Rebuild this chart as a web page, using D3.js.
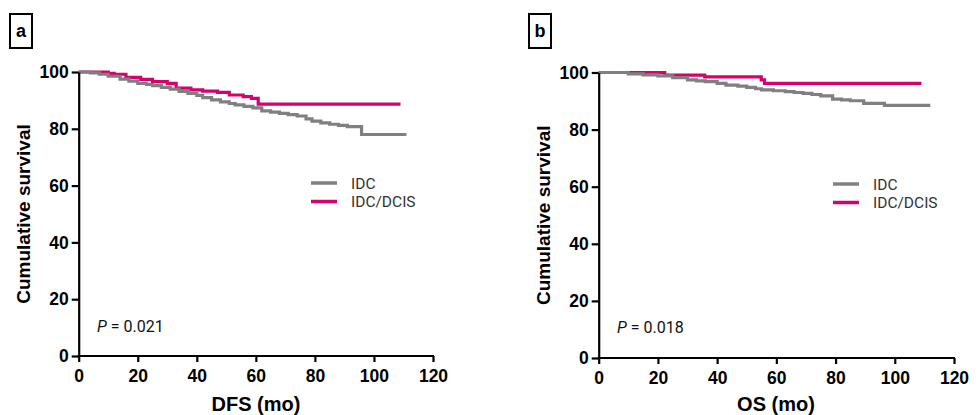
<!DOCTYPE html>
<html>
<head>
<meta charset="utf-8">
<script src="https://cdn.jsdelivr.net/npm/d3@7"></script>
<style>
  body { margin: 0; background: #fff; }
  svg { display: block; }
</style>
</head>
<body>
<svg id="chart" width="979" height="415"></svg>
<script>
// x ticks / y ticks
let xTicks = [0, 20, 40, 60, 80, 100, 120];
let yTicks = [0, 20, 40, 60, 80, 100];
let seriesNames = ["IDC", "IDC/DCIS"];
let seriesColors = ["#808080", "#d6006e"];

// panel a: DFS
let dfsIdcTime = [0, 4, 7, 10, 14, 17, 20, 23, 25, 28, 31, 34, 37, 40, 42, 45, 48, 51, 53, 56, 59, 62, 65, 68, 71, 74, 77, 79, 82, 85, 88, 91, 95.8, 111];
let dfsIdcSurv = [100, 99.7, 99.2, 98.5, 97.5, 96.8, 96.0, 95.6, 95.2, 94.6, 94.0, 93.2, 92.5, 91.8, 91.0, 90.2, 89.5, 88.9, 88.4, 87.9, 87.4, 86.3, 85.9, 85.4, 85.0, 84.5, 83.5, 82.7, 82.1, 81.6, 81.2, 80.8, 78.0, 78.0];
let dfsDcisTime = [0, 10, 12, 16, 21, 25, 30, 33, 38, 42, 47, 51, 55.7, 58.5, 60.8, 109];
let dfsDcisSurv = [100, 99.5, 99.2, 98.1, 97.4, 96.6, 96.0, 94.3, 93.7, 93.3, 92.8, 91.9, 91.3, 90.7, 88.7, 88.7];

// panel b: OS
let osIdcTime = [0, 10, 15, 20, 25, 30, 33, 36, 40, 43, 47, 50, 53, 55, 59, 63, 66, 69, 72, 75, 79, 82, 85, 89.5, 96.5, 112];
let osIdcSurv = [100, 99.5, 99.2, 98.8, 98.2, 97.4, 97.1, 96.8, 96.2, 95.6, 95.2, 94.8, 94.3, 93.9, 93.6, 93.3, 93.0, 92.7, 92.3, 91.8, 90.7, 90.4, 90.1, 89.2, 88.5, 88.5];
let osDcisTime = [0, 22.3, 35.8, 54.9, 56, 109];
let osDcisSurv = [100, 99.1, 98.5, 97.4, 96.2, 96.2];

let panels = [
  { label: "a", xTitle: "DFS (mo)", pText: "0.021",
    times: [dfsIdcTime, dfsDcisTime], survs: [dfsIdcSurv, dfsDcisSurv],
    x0: 78.7, x1: 433, y0: 356, y1: 72,
    box: [10, 14], legend: [311, 183], pPos: [97, 332], yTitleX: 23, xTitleX: 256 },
  { label: "b", xTitle: "OS (mo)", pText: "0.018",
    times: [osIdcTime, osDcisTime], survs: [osIdcSurv, osDcisSurv],
    x0: 598.7, x1: 954, y0: 358, y1: 72.5,
    box: [529, 14], legend: [833, 184], pPos: [617, 333], yTitleX: 543, xTitleX: 776 }
];

let svg = d3.select("#chart");

panels.forEach(p => {
  let x = d3.scaleLinear().domain([0, 120]).range([p.x0, p.x1]);
  let y = d3.scaleLinear().domain([0, 100]).range([p.y0, p.y1]);
  let g = svg.append("g");

  // panel letter box
  g.append("rect")
    .attr("x", p.box[0]).attr("y", p.box[1])
    .attr("width", 22).attr("height", 34)
    .attr("fill", "none").attr("stroke", "#000").attr("stroke-width", 2);
  g.append("text")
    .attr("x", p.box[0] + 11).attr("y", p.box[1] + 23)
    .attr("text-anchor", "middle")
    .style("font", "bold 18px 'Liberation Sans', Arial, sans-serif")
    .text(p.label);

  // curves
  let line = d3.line()
    .x(d => x(d[0]))
    .y(d => y(d[1]))
    .curve(d3.curveStepAfter);
  [0, 1].forEach(i => {
    let pts = d3.zip(p.times[i], p.survs[i]);
    g.append("path")
      .datum(pts)
      .attr("fill", "none")
      .attr("stroke", seriesColors[i])
      .attr("stroke-width", 3.2)
      .attr("d", line);
  });
  // gray on top where both curves overlap at the start
  g.select("path").raise();

  // axes
  let xAxis = g.append("g")
    .attr("transform", `translate(0,${p.y0})`)
    .call(d3.axisBottom(x).tickValues(xTicks).tickSize(6).tickPadding(8).tickSizeOuter(0));
  let yAxis = g.append("g")
    .attr("transform", `translate(${p.x0},0)`)
    .call(d3.axisLeft(y).tickValues(yTicks).tickSize(7).tickPadding(3).tickSizeOuter(0));
  [xAxis, yAxis].forEach(a => {
    a.select(".domain").attr("stroke", "#000").attr("stroke-width", 2.2);
    a.selectAll(".tick line").attr("stroke", "#000").attr("stroke-width", 2.2);
    a.selectAll(".tick text")
      .attr("fill", "#000")
      .style("font", "bold 17.5px 'Liberation Sans', Arial, sans-serif");
  });
  xAxis.select(".domain").attr("d", `M${p.x0 - 1},0H${p.x1 + 1}`);

  // axis titles
  g.append("text")
    .attr("transform", `translate(${p.yTitleX + 7},${(p.y0 + p.y1) / 2}) rotate(-90)`)
    .attr("text-anchor", "middle")
    .style("font", "bold 19px 'Liberation Sans', Arial, sans-serif")
    .text("Cumulative survival");
  g.append("text")
    .attr("x", p.xTitleX).attr("y", 411)
    .attr("text-anchor", "middle")
    .style("font", "bold 20px 'Liberation Sans', Arial, sans-serif")
    .text(p.xTitle);

  // legend
  seriesNames.forEach((name, i) => {
    let ly = p.legend[1] + i * 18.5;
    g.append("line")
      .attr("x1", p.legend[0]).attr("x2", p.legend[0] + 26)
      .attr("y1", ly).attr("y2", ly)
      .attr("stroke", seriesColors[i]).attr("stroke-width", 3.5);
    g.append("text")
      .attr("x", p.legend[0] + 40).attr("y", ly + 5.5)
      .attr("fill", "#333")
      .style("font", "15.5px Roboto, 'Liberation Sans', sans-serif")
      .text(name);
  });

  // p value
  let pt = g.append("text")
    .attr("x", p.pPos[0]).attr("y", p.pPos[1])
    .attr("fill", "#111")
    .style("font", "16px Roboto, 'Liberation Sans', sans-serif");
  pt.append("tspan").style("font-style", "italic").text("P");
  pt.append("tspan").text(" = " + p.pText);
});
</script>
</body>
</html>
